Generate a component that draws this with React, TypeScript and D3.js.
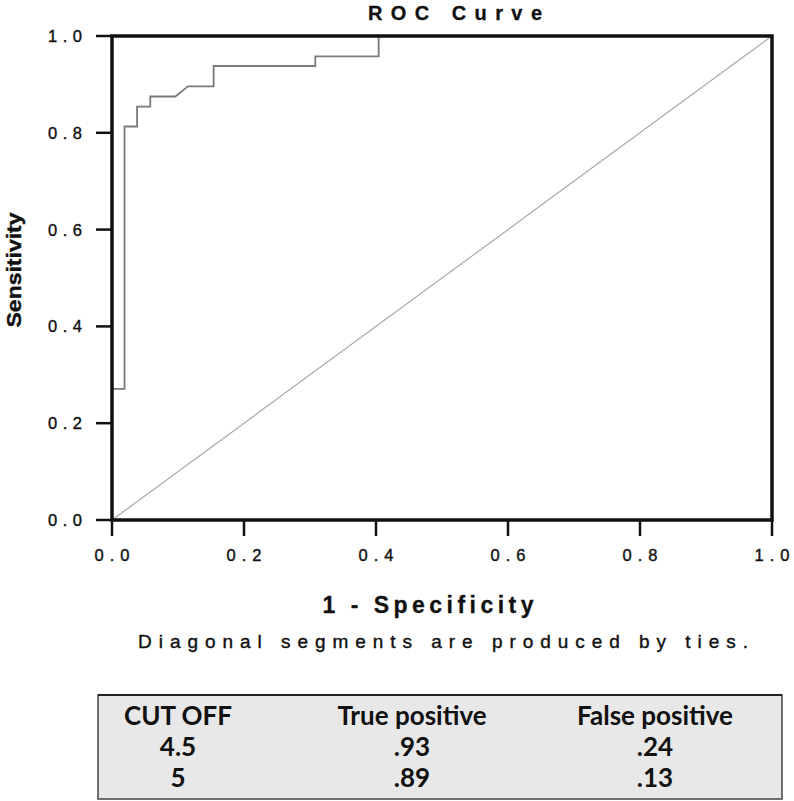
import React from "react";
import * as d3 from "d3";

const fpr = [0, 0, 0.019, 0.019, 0.038, 0.038, 0.058, 0.058, 0.096, 0.115, 0.154, 0.154, 0.308, 0.308, 0.404, 0.404, 1];
const tpr = [0, 0.271, 0.271, 0.813, 0.813, 0.854, 0.854, 0.875, 0.875, 0.896, 0.896, 0.938, 0.938, 0.958, 0.958, 1, 1];
const tickValues = [0, 0.2, 0.4, 0.6, 0.8, 1.0];
const tableHeader = ["CUT OFF", "True positive", "False positive"];
const cutOffs = ["4.5", "5"];
const truePositives = [".93", ".89"];
const falsePositives = [".24", ".13"];

const W = 794;
const H = 801;

export default function App() {
  const x = d3.scaleLinear().domain([0, 1]).range([112, 772]);
  const y = d3.scaleLinear().domain([0, 1]).range([520, 36]);
  const pts: [number, number][] = fpr.map((f, i) => [f, tpr[i]]);
  const line = d3
    .line<[number, number]>()
    .x((d) => x(d[0]))
    .y((d) => y(d[1]));
  const diag = line([
    [0, 0],
    [1, 1],
  ]);
  const fmt = d3.format(".1f");
  const colX = [178, 412, 655];
  const rowsY = [725, 756, 787];
  const rows = cutOffs.map((c, i) => [c, truePositives[i], falsePositives[i]]);
  const arial = "Liberation Sans, Arial, sans-serif";
  return (
    <svg
      width={W}
      height={H}
      style={{ position: "absolute", left: 0, top: 0, background: "#fff" }}
    >
      <rect x={0} y={0} width={W} height={H} fill="#fff" />
      {/* title */}
      <text
        x={455}
        y={20}
        textAnchor="middle"
        fontFamily={arial}
        fontWeight="bold"
        fontSize={20}
        textLength={174}
        fill="#111"
        stroke="#111"
        strokeWidth={0.3}
      >
        ROC Curve
      </text>
      {/* diagonal */}
      <path d={diag || ""} stroke="#a8a8a8" strokeWidth={1.2} fill="none" />
      {/* roc curve */}
      <path d={line(pts) || ""} stroke="#7a7a7a" strokeWidth={1.8} fill="none" />
      {/* frame */}
      <rect
        x={x(0)}
        y={y(1)}
        width={x(1) - x(0)}
        height={y(0) - y(1)}
        fill="none"
        stroke="#111"
        strokeWidth={3.5}
      />
      {/* y ticks */}
      {tickValues.map((t) => (
        <g key={"y" + t}>
          <line x1={96} x2={x(0)} y1={y(t)} y2={y(t)} stroke="#111" strokeWidth={2.5} />
          <text
            x={82}
            y={y(t) + 6}
            textAnchor="end"
            fontFamily={arial}
            fontSize={16.5}
            textLength={34}
            fill="#111"
            stroke="#111"
            strokeWidth={0.4}
          >
            {fmt(t)}
          </text>
        </g>
      ))}
      {/* x ticks */}
      {tickValues.map((t) => (
        <g key={"x" + t}>
          <line x1={x(t)} x2={x(t)} y1={y(0)} y2={y(0) + 16} stroke="#111" strokeWidth={2.5} />
          <text
            x={x(t)}
            y={561}
            textAnchor="middle"
            fontFamily={arial}
            fontSize={16.5}
            textLength={35}
            fill="#111"
            stroke="#111"
            strokeWidth={0.4}
          >
            {fmt(t)}
          </text>
        </g>
      ))}
      {/* axis labels */}
      <text
        transform="translate(21,270) rotate(-90)"
        textAnchor="middle"
        fontFamily={arial}
        fontWeight="bold"
        fontSize={21}
        textLength={115}
        lengthAdjust="spacingAndGlyphs"
        fill="#111"
        stroke="#111"
        strokeWidth={0.4}
      >
        Sensitivity
      </text>
      <text
        x={428}
        y={613}
        textAnchor="middle"
        fontFamily={arial}
        fontWeight="bold"
        fontSize={23}
        textLength={211}
        fill="#111"
        stroke="#111"
        strokeWidth={0.3}
      >
        1 - Specificity
      </text>
      <text
        x={443}
        y={648}
        textAnchor="middle"
        fontFamily={arial}
        fontSize={19}
        textLength={610}
        fill="#111"
        stroke="#111"
        strokeWidth={0.4}
      >
        Diagonal segments are produced by ties.
      </text>
      {/* table */}
      <rect x={98} y={695} width={684} height={104} fill="#e8e8e8" stroke="#444" strokeWidth={1.5} />
      <line x1={98} x2={782} y1={695} y2={695} stroke="#222" strokeWidth={2} />
      {tableHeader.map((h, i) => (
        <text
          key={h}
          x={colX[i]}
          y={rowsY[0]}
          textAnchor="middle"
          fontFamily="Lato, Open Sans, sans-serif"
          fontWeight="bold"
          fontSize={26}
          fill="#111"
        >
          {h}
        </text>
      ))}
      {rows.map((r, ri) =>
        r.map((v, ci) => (
          <text
            key={ri + "-" + ci}
            x={colX[ci]}
            y={rowsY[ri + 1]}
            textAnchor="middle"
            fontFamily="Lato, Open Sans, sans-serif"
            fontWeight="bold"
            fontSize={26}
            fill="#111"
          >
            {v}
          </text>
        ))
      )}
    </svg>
  );
}
